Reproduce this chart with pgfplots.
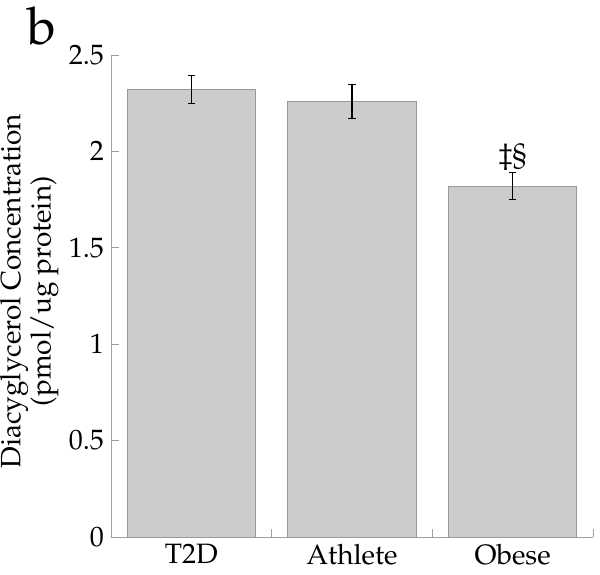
\documentclass[border=0pt]{standalone}
\usepackage[T1]{fontenc}
\usepackage{mathpazo}
\usepackage{pgfplots}
\pgfplotsset{compat=1.18}
\definecolor{barfill}{HTML}{CCCCCC}
\definecolor{baredge}{HTML}{999999}
\definecolor{axgray}{HTML}{A0A0A0}
\begin{document}
\begin{tikzpicture}
\path[use as bounding box] (0,0) rectangle (300pt,287pt);
\begin{axis}[
  at={(55.5pt,18.5pt)}, anchor=south west,
  scale only axis, width=241pt, height=241pt,
  xmin=-0.5, xmax=2.5, ymin=0, ymax=2.5,
  axis x line*=bottom, axis y line*=left,
  axis line style={draw=axgray, line width=0.5pt},
  font=\fontsize{14}{17}\selectfont,
  tick align=inside, major tick length=4pt,
  tick style={draw=axgray, line width=0.5pt},
  xtick={-0.5,0.5,1.5,2.5}, xticklabels={,,,},
  extra x ticks={0,1,2}, extra x tick labels={T2D,Athlete,Obese},
  extra x tick style={major tick length=0pt, tick style={draw=none}},
  ytick={0,0.5,1,1.5,2,2.5},
  ylabel={Diacyglycerol Concentration\\(pmol/ug protein)},
  ylabel style={at={(axis description cs:-0.108,0.51)}, anchor=south,
    align=center, inner sep=0pt, font=\fontsize{14}{11.5}\selectfont},
]
\addplot[ybar, bar width=0.8, fill=barfill, draw=baredge, line width=0.5pt,
  error bars/.cd, y dir=both, y explicit,
  error bar style={black, line width=0.6pt},
  error mark options={rotate=90, mark size=1.8pt, black, line width=0.6pt}]
  coordinates {(0,2.32) +- (0,0.073) (1,2.26) +- (0,0.088) (2,1.82) +- (0,0.071)};
\node at (axis cs:2,1.97) {\ddag\S};
\end{axis}
\node at (21pt,274pt) {\fontsize{26}{30}\selectfont b};
\end{tikzpicture}
\end{document}
